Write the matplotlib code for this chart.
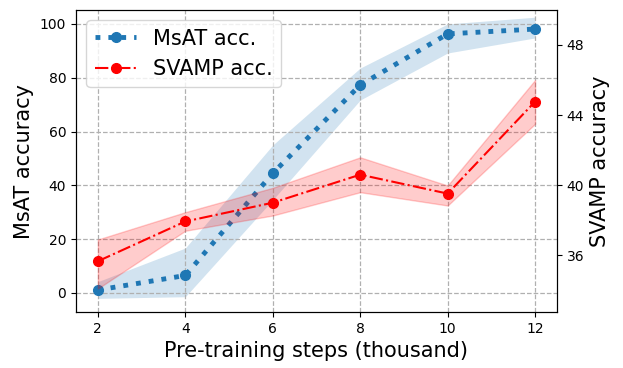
import matplotlib
matplotlib.use("Agg")
import matplotlib.pyplot as plt
import numpy as np

steps = [2, 4, 6, 8, 10, 12]
msat = [1.1, 6.5, 44.5, 77.3, 96.3, 98.1]
msat_hi = [4.2, 16.7, 55.0, 83.6, 100.0, 102.5]
msat_lo = [-2.0, -1.4, 34.6, 71.7, 89.2, 94.8]
svamp = [35.66, 37.93, 39.0, 40.6, 39.52, 44.77]
svamp_hi = [36.9, 38.46, 39.85, 41.59, 39.98, 46.0]
svamp_lo = [34.1, 37.4, 38.27, 39.6, 38.84, 43.5]

fig = plt.figure(figsize=(6.23, 3.68), dpi=100)
ax = fig.add_subplot(111)
fig.subplots_adjust(left=0.122, right=0.894, top=0.973, bottom=0.152)
ax2 = ax.twinx()

l1, = ax.plot(steps, msat, linestyle=':', color='tab:blue', linewidth=3.5,
              marker='o', markersize=7, label='MsAT acc.')
ax.fill_between(steps, msat_lo, msat_hi, color='tab:blue', alpha=0.2, linewidth=0)
l2, = ax2.plot(steps, svamp, linestyle='-.', color='red', linewidth=1.5,
               marker='o', markersize=7, label='SVAMP acc.')
ax2.fill_between(steps, svamp_lo, svamp_hi, color='red', alpha=0.2)

ax.set_xlim(1.5, 12.5)
ax.set_ylim(-7.1, 105.2)
ax2.set_ylim(32.76, 50.0)
ax.set_xticks(steps)
ax.set_yticks([0, 20, 40, 60, 80, 100])
ax2.set_yticks([36, 40, 44, 48])
ax.grid(True, linestyle='--', color='#b0b0b0', linewidth=0.9)
ax.set_xlabel('Pre-training steps (thousand)', fontsize=15)
ax.set_ylabel('MsAT accuracy', fontsize=15)
ax2.set_ylabel('SVAMP accuracy', fontsize=15)
ax2.legend([l1, l2], ['MsAT acc.', 'SVAMP acc.'], loc='upper left', fontsize=15)

fig.savefig('out.png', dpi=100)
